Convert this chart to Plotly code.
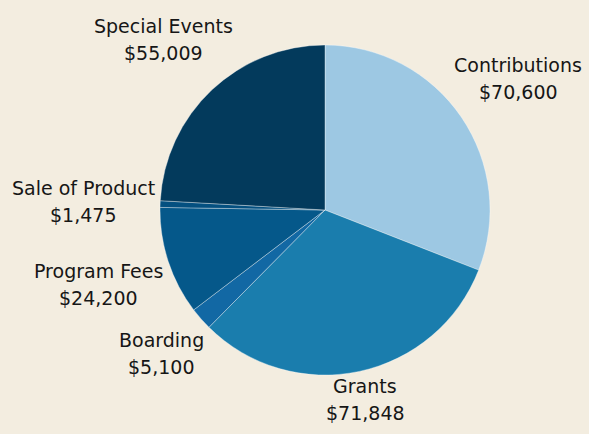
import math
import plotly.graph_objects as go

categories = ["Contributions", "Grants", "Boarding", "Program Fees", "Sale of Product", "Special Events"]
amounts = [70600, 71848, 5100, 24200, 1475, 55009]
slice_colors = ["#9dc8e3", "#1a7dad", "#1268a4", "#05588a", "#045080", "#033a5c"]
# how far each label sits from the pie centre (px), like the spreadsheet placement
label_dist = [234, 194, 218, 238, 242, 235]

W, H = 589, 434
cx, cy, r = 325, 210, 165
font = dict(family="DejaVu Sans", size=19, color="#161616")

fig = go.Figure(go.Pie(
    labels=categories,
    values=amounts,
    sort=False,
    direction="clockwise",
    rotation=0,
    marker=dict(colors=slice_colors, line=dict(color="rgba(255,255,255,0.35)", width=1)),
    textinfo="none",
    hoverinfo="label+value+percent",
    showlegend=False,
    domain=dict(x=[(cx - r) / W, (cx + r) / W], y=[1 - (cy + r) / H, 1 - (cy - r) / H]),
))

# labels at the middle angle of each slice, outside the pie
total = sum(amounts)
cum = 0
for name, val, d in zip(categories, amounts, label_dist):
    mid = (cum + val / 2) / total * 2 * math.pi
    cum += val
    px = cx + d * math.sin(mid)
    py = cy - d * math.cos(mid)
    for txt, shift in ((name, 13.5), (f"${val:,}", -13.5)):
        fig.add_annotation(
            x=px / W, y=1 - py / H, xref="paper", yref="paper",
            text=txt, showarrow=False, font=font,
            xanchor="center", yanchor="middle", yshift=shift,
        )

fig.update_layout(
    width=W, height=H,
    margin=dict(l=0, r=0, t=0, b=0),
    paper_bgcolor="#f3ede0",
    plot_bgcolor="#f3ede0",
)

fig.write_html(
    "out.html",
    config={"displayModeBar": False},
    post_script="document.body.style.margin='0';",
)
